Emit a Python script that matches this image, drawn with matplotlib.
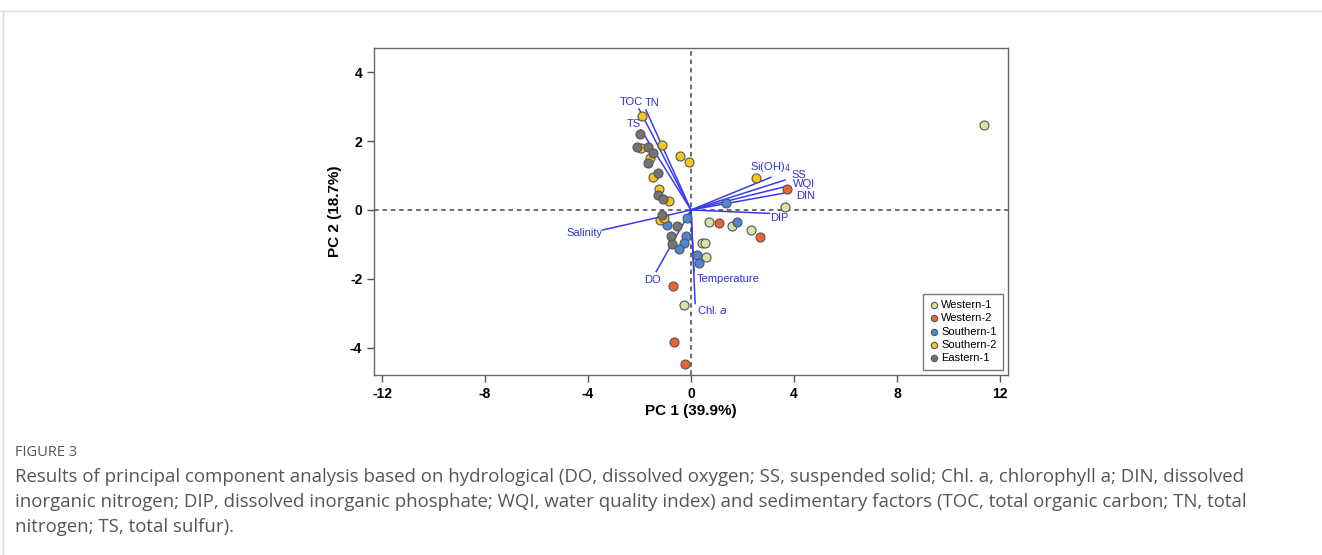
#PCA biplot, figure 3

import numpy as np
import matplotlib.pyplot as plt
from matplotlib.lines import Line2D

plt.rcParams['font.family'] = ['Liberation Sans', 'DejaVu Sans']
plt.rcParams['axes.unicode_minus'] = False

# sample scores on PC1 / PC2, by group
groups = ["Western-1", "Western-2", "Southern-1", "Southern-2", "Eastern-1"]
colors = ["#d3e4a4", "#ef6232", "#4d86d6", "#f4c51c", "#747474"]

w1_x = [0.41, 0.54, 0.58, 3.65, 0.70, 1.60, 2.33, -0.27, 11.39]
w1_y = [-0.97, -0.97, -1.38, 0.08, -0.34, -0.48, -0.58, -2.75, 2.47]

w2_x = [3.74, 1.09, 2.68, -0.71, -0.66, -0.22]
w2_y = [0.62, -0.39, -0.78, -2.20, -3.85, -4.48]

s1_x = [1.35, 1.77, -0.94, -0.17, -0.19, -0.27, -0.45, 0.25, 0.32]
s1_y = [0.21, -0.36, -0.44, -0.24, -0.76, -0.97, -1.14, -1.31, -1.53]

s2_x = [-1.91, -1.94, -1.14, -1.59, -0.43, -0.08, -1.46, -1.23, -0.85, -1.20, -1.04, 2.52]
s2_y = [2.73, 1.81, 1.89, 1.50, 1.57, 1.39, 0.97, 0.60, 0.26, -0.29, -0.24, 0.94]

e1_x = [-1.98, -2.08, -1.66, -1.46, -1.68, -1.27, -1.27, -1.07, -1.14, -0.53, -0.79, -0.73]
e1_y = [2.20, 1.82, 1.84, 1.67, 1.36, 1.08, 0.44, 0.31, -0.15, -0.47, -0.76, -0.99]

scores_x = [w1_x, w2_x, s1_x, s2_x, e1_x]
scores_y = [w1_y, w2_y, s1_y, s2_y, e1_y]

# variable loadings (arrow tips)
var_names = ["TOC", "TN", "TS", "Si(OH)$_4$", "SS", "WQI", "DIN", "DIP",
             "Salinity", "DO", "Temperature", "Chl. $\\it{a}$"]
load_x = [-2.02, -1.75, -1.94, 3.10, 3.65, 3.77, 3.61, 3.05, -3.42, -1.35, 0.12, 0.16]
load_y = [2.94, 2.91, 2.33, 0.95, 0.87, 0.70, 0.49, -0.10, -0.58, -1.79, -1.80, -2.72]

# label anchor positions for the arrow names
lab_x = [-2.33, -1.51, -2.21, 2.28, 3.90, 3.96, 4.08, 3.07, -3.42, -1.51, 0.23, 0.23]
lab_y = [3.14, 3.11, 2.50, 1.24, 1.03, 0.76, 0.41, -0.23, -0.67, -2.03, -2.00, -2.90]
lab_ha = ["center", "center", "center", "left", "left", "left", "left", "left",
          "right", "center", "left", "left"]


def main():
    fig = plt.figure(figsize=(13.22, 5.55), dpi=100)

    # page decoration: thin grey frame lines
    fig.add_artist(Line2D([0, 1], [0.981, 0.981], color="#d9d9d9", lw=1))
    fig.add_artist(Line2D([0.002, 0.002], [0, 0.981], color="#d9d9d9", lw=1))

    ax = fig.add_axes([0.2829, 0.3243, 0.4796, 0.5892])

    ax.axhline(0, color="#444444", lw=1.1, ls=(0, (3, 2.5)), zorder=1)
    ax.axvline(0, color="#444444", lw=1.1, ls=(0, (3, 2.5)), zorder=1)

    for i in range(len(var_names)):
        ax.plot([0, load_x[i]], [0, load_y[i]], color="#3a3af0", lw=1.1, zorder=2)
        ax.text(lab_x[i], lab_y[i], var_names[i], color="#2f2fd8", fontsize=8,
                ha=lab_ha[i], va="center", zorder=4)

    for i in range(len(groups)):
        ax.scatter(scores_x[i], scores_y[i], s=42, color=colors[i],
                   edgecolor="#555555", linewidth=0.8, label=groups[i], zorder=3)

    ax.set_xlim(-12.31, 12.31)
    ax.set_ylim(-4.80, 4.71)
    ax.set_xticks([-12, -8, -4, 0, 4, 8, 12])
    ax.set_yticks([-4, -2, 0, 2, 4])
    for s in ax.spines.values():
        s.set_color("#666666")
        s.set_linewidth(1)
    ax.tick_params(direction="out", length=5, width=1, color="#555555",
                   labelsize=10)
    for t in ax.get_xticklabels() + ax.get_yticklabels():
        t.set_fontweight("bold")

    ax.set_xlabel("PC 1 (39.9%)", fontsize=11, fontweight="bold", labelpad=2)
    ax.set_ylabel("PC 2 (18.7%)", fontsize=11, fontweight="bold", labelpad=6)

    leg = ax.legend(loc="lower right", bbox_to_anchor=(0.995, 0.01), fontsize=8,
                    frameon=True, fancybox=False, handletextpad=0.1,
                    handlelength=1.0, borderpad=0.55, labelspacing=0.3,
                    markerscale=0.7, borderaxespad=0.2)
    leg.get_frame().set_edgecolor("#555555")
    leg.get_frame().set_linewidth(1)

    # caption
    grey = "#555555"
    fig.text(0.0113, 1 - 453 / 555, "FIGURE 3", fontsize=10.5, color=grey,
             family="Open Sans", va="center")
    lines = [
        "Results of principal component analysis based on hydrological (DO, dissolved oxygen; SS, suspended solid; Chl. a, chlorophyll a; DIN, dissolved",
        "inorganic nitrogen; DIP, dissolved inorganic phosphate; WQI, water quality index) and sedimentary factors (TOC, total organic carbon; TN, total",
        "nitrogen; TS, total sulfur).",
    ]
    for k, line in enumerate(lines):
        fig.text(0.0113, 1 - (477 + 25 * k) / 555, line, fontsize=13.4,
                 color=grey, family="Open Sans", va="center")

    fig.savefig("out.png", dpi=100)


if __name__ == "__main__":
    main()
